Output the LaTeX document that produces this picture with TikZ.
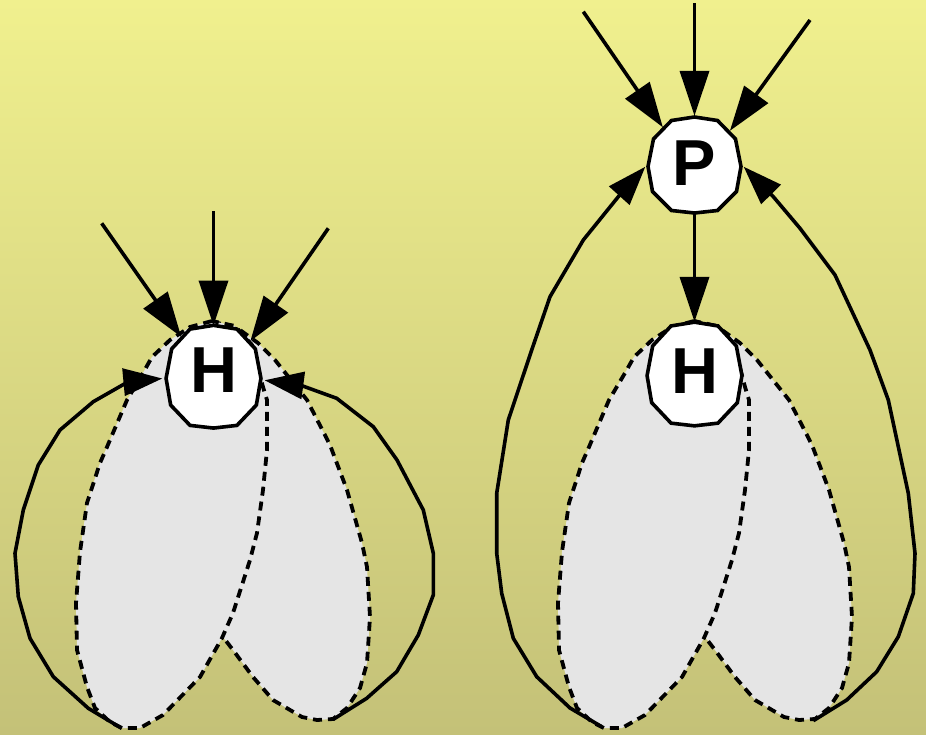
\documentclass[tikz,border=0pt]{standalone}
\usepackage{fontspec}
\newfontfamily\labfont{Liberation Sans}
\usetikzlibrary{arrows.meta}
\pgfdeclarelayer{bg}\pgfdeclarelayer{mid}\pgfsetlayers{bg,mid,main}
\definecolor{bgtop}{RGB}{240,240,142}
\definecolor{bgbot}{RGB}{196,193,120}
\definecolor{leafgray}{RGB}{229,229,229}
\tikzset{
 lbl/.style={circle, draw=none, inner sep=0pt, font=\labfont\bfseries\fontsize{65}{65}\selectfont},
 edgearr/.style={line width=3.6pt, -{Triangle[length=45pt,width=29pt]}},
 sidearr/.style={line width=3.6pt, -{Triangle[length=39pt,width=27pt]}},
 leafpath/.style={fill=leafgray, draw=black, line width=3.8pt, dash pattern=on 9pt off 6pt},
 octo/.style={fill=white, draw=black, line width=3.6pt}
}
\begin{document}
\begin{tikzpicture}[x=1pt,y=-1pt]
\useasboundingbox (0,0) rectangle (926,734);
% nodes
\node[lbl, minimum size=102pt, text depth=13pt] (H1) at (213.5,376.7) {H};
\node[lbl, minimum size=98pt, text depth=4pt] (P) at (694.5,165) {P};
\node[lbl, minimum size=104pt, text depth=5pt] (H2) at (694.5,374) {H};
% background
\begin{pgfonlayer}{bg}
\shade[top color=bgtop, bottom color=bgbot] (0,0) rectangle (926,734);
\end{pgfonlayer}
% leaves and node outlines
\begin{pgfonlayer}{mid}
\foreach \dx in {0,482} {
 \begin{scope}[shift={(\dx,0)}]
 \draw[leafpath] (212,321) -- (240,330) -- (258,343) -- (275,360) -- (307,400) -- (330,445) -- (347,490) -- (362,543) -- (367,567) -- (370,617) -- (367,663) -- (360,688) -- (347,708) -- (333,719) -- (317,720) -- (302,717) -- (273,700) -- (253,677) -- (233,650) -- (223,637) -- (205,520) -- (195,420) -- (195,360) -- cycle;
 \draw[leafpath] (212,321) -- (190,327) -- (170,340) -- (152,357) -- (143,373) -- (127,400) -- (107,447) -- (100,463) -- (87,503) -- (80,552) -- (76,603) -- (77,650) -- (87,687) -- (95,708) -- (110,722) -- (122,728) -- (140,728) -- (163,715) -- (200,677) -- (222,638) -- (233,613) -- (250,560) -- (257,533) -- (263,490) -- (267,450) -- (267,400) -- (263,387) -- (252,345) -- (235,326) -- cycle;
 \end{scope}
}
\foreach \n/\sx/\sy in {H1/1.02/1.07, P/1/1, H2/1.02/1.08} {
 \draw[octo, shift={(\n.center)}, xscale=\sx, yscale=\sy] (0,-48) -- (23,-44.5) -- (41,-26) -- (46.5,1.5) -- (42,26.5) -- (23,45.5) -- (0,48) -- (-23,45.5) -- (-42,26.5) -- (-46.5,1.5) -- (-41,-26) -- (-23,-44.5) -- cycle;
}
\end{pgfonlayer}
% free ends
\coordinate (a1) at (101.7,223.3);
\coordinate (a2) at (213.5,211);
\coordinate (a3) at (328.3,228.3);
\coordinate (b1) at (583.3,11.7);
\coordinate (b2) at (694.5,3);
\coordinate (b3) at (810,20);
\coordinate (c1) at (121.7,728.3);
\coordinate (c2) at (333.3,719.3);
\coordinate (d1) at (601.7,726.7);
\coordinate (d2) at (813.3,720.7);
% top arrows
\draw[edgearr] (a1) -- (H1.129);
\draw[edgearr] (a2) -- (H1.90);
\draw[edgearr] (a3) -- (H1.44);
\draw[edgearr] (b1) -- (P.130);
\draw[edgearr] (b2) -- (P.90);
\draw[edgearr] (b3) -- (P.44);
\draw[edgearr] (P) -- (H2);
% side arcs, left diagram
\draw[sidearr] (c1) -- (88.3,708.3) -- (53.3,676.7) -- (30,638.3) -- (18.3,596.7) -- (15,553.3) -- (23.3,510) -- (38.3,465) -- (60,430) -- (93.3,401.7) -- (128.3,381.7) -- (H1.182);
\draw[sidearr] (c2) -- (366.7,698.3) -- (396.7,671.7) -- (418.3,635) -- (433.3,595) -- (433.3,553.3) -- (423.3,510) -- (397,460) -- (373.3,426.7) -- (336.7,398.3) -- (300,385) -- (H1.-4);
% side arcs, right diagram
\draw[sidearr] (d1) -- (570,708) -- (536.7,676.7) -- (513.3,638.3) -- (501.7,593.3) -- (496.7,553.3) -- (496.7,493.3) -- (508.3,420) -- (531.7,350) -- (550,296.7) -- (583.3,240) -- (618.3,196.7) -- (P.182);
\draw[sidearr] (d2) -- (846.7,700) -- (876.7,671.7) -- (898.3,636.7) -- (913.3,593.3) -- (915,553.3) -- (908.3,493.3) -- (888.3,400) -- (870,350) -- (835,275) -- (800,228.3) -- (773.3,196.7) -- (P.-2);
\end{tikzpicture}
\end{document}
